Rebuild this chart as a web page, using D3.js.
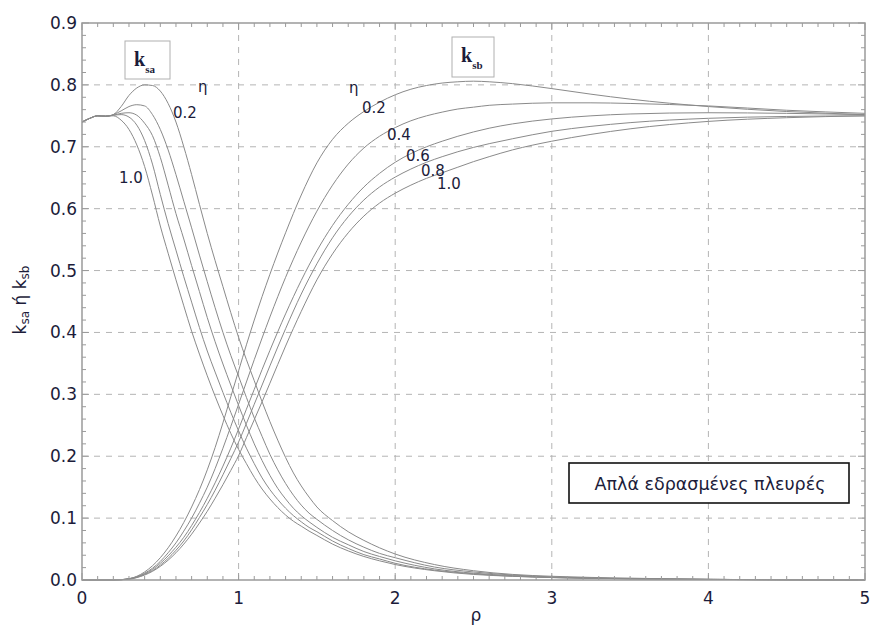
<!DOCTYPE html>
<html><head><meta charset="utf-8">
<script src="https://cdn.jsdelivr.net/npm/d3@7"></script>
<style>body{margin:0;background:#fff}</style>
</head><body>
<svg id="c" width="871" height="626"></svg>
<script>
// ---------- data ----------
const etaValues = ["0.2","0.4","0.6","0.8","1.0"];
const rhoA = [0,0.05,0.1,0.15,0.2,0.25,0.3,0.35,0.4,0.45,0.5,0.55,0.6,0.65,0.7,0.75,0.8,0.85,0.9,0.95,1.0,1.05,1.1,1.15,1.2,1.25,1.3,1.35,1.4,1.45,1.5,1.6,1.7,1.8,1.9,2.0,2.25,2.5,2.75,3,3.5,4,5];
const ksa02 = [0.740,0.746,0.750,0.749,0.752,0.765,0.783,0.795,0.800,0.799,0.790,0.770,0.740,0.700,0.655,0.607,0.560,0.516,0.474,0.432,0.392,0.356,0.322,0.288,0.256,0.226,0.198,0.173,0.152,0.134,0.118,0.096,0.078,0.064,0.052,0.042,0.025,0.015,0.009,0.006,0.003,0.001,0];
const ksa04 = [0.740,0.746,0.750,0.749,0.752,0.758,0.765,0.768,0.766,0.752,0.728,0.695,0.655,0.612,0.569,0.525,0.482,0.440,0.400,0.363,0.329,0.295,0.262,0.232,0.203,0.178,0.156,0.137,0.121,0.108,0.098,0.080,0.065,0.053,0.043,0.036,0.021,0.013,0.008,0.005,0.002,0.001,0];
const ksa06 = [0.740,0.746,0.750,0.749,0.751,0.754,0.755,0.751,0.738,0.718,0.683,0.638,0.592,0.551,0.508,0.466,0.424,0.385,0.349,0.315,0.282,0.250,0.220,0.193,0.169,0.148,0.131,0.116,0.104,0.094,0.085,0.069,0.057,0.046,0.038,0.031,0.018,0.011,0.007,0.004,0.002,0.001,0];
const ksa08 = [0.740,0.746,0.750,0.750,0.751,0.752,0.748,0.735,0.710,0.672,0.623,0.576,0.533,0.490,0.449,0.408,0.370,0.336,0.303,0.271,0.241,0.213,0.188,0.165,0.146,0.130,0.116,0.104,0.094,0.085,0.078,0.063,0.051,0.041,0.034,0.027,0.016,0.010,0.006,0.004,0.002,0.001,0];
const ksa10 = [0.740,0.746,0.750,0.750,0.750,0.743,0.728,0.703,0.668,0.622,0.572,0.528,0.485,0.443,0.402,0.365,0.330,0.297,0.266,0.237,0.211,0.188,0.166,0.147,0.131,0.117,0.105,0.095,0.087,0.079,0.072,0.058,0.047,0.038,0.031,0.025,0.015,0.009,0.006,0.004,0.002,0.001,0];

const rhoB = [0,0.1,0.2,0.25,0.3,0.35,0.4,0.45,0.5,0.55,0.6,0.65,0.7,0.75,0.8,0.85,0.9,0.95,1.0,1.05,1.1,1.15,1.2,1.3,1.4,1.5,1.6,1.7,1.8,1.9,2.0,2.1,2.2,2.3,2.4,2.5,2.6,2.75,3.0,3.25,3.5,4.0,4.5,5.0];
const ksb02 = [0,0,0,0.0005,0.002,0.006,0.013,0.023,0.036,0.052,0.071,0.093,0.118,0.146,0.178,0.214,0.254,0.296,0.338,0.380,0.420,0.458,0.494,0.561,0.622,0.674,0.712,0.738,0.757,0.772,0.784,0.793,0.799,0.803,0.805,0.806,0.805,0.802,0.794,0.785,0.777,0.765,0.757,0.752];
const ksb04 = [0,0,0,0.0005,0.002,0.005,0.011,0.019,0.030,0.044,0.060,0.079,0.100,0.124,0.150,0.180,0.213,0.248,0.284,0.320,0.356,0.391,0.425,0.489,0.546,0.596,0.638,0.672,0.698,0.717,0.731,0.742,0.750,0.756,0.761,0.764,0.767,0.769,0.771,0.771,0.770,0.766,0.759,0.754];
const ksb06 = [0,0,0,0.0005,0.002,0.005,0.010,0.017,0.027,0.039,0.053,0.069,0.088,0.109,0.132,0.157,0.184,0.213,0.244,0.276,0.308,0.340,0.371,0.430,0.484,0.532,0.573,0.607,0.635,0.657,0.675,0.689,0.700,0.709,0.717,0.724,0.730,0.737,0.745,0.750,0.753,0.755,0.754,0.752];
const ksb08 = [0,0,0,0.0005,0.002,0.004,0.009,0.015,0.024,0.035,0.048,0.063,0.081,0.101,0.122,0.145,0.170,0.196,0.223,0.253,0.284,0.315,0.346,0.406,0.462,0.511,0.553,0.587,0.614,0.635,0.651,0.664,0.675,0.684,0.692,0.699,0.705,0.713,0.725,0.733,0.739,0.746,0.749,0.750];
const ksb10 = [0,0,0,0.0005,0.001,0.004,0.008,0.014,0.022,0.032,0.044,0.058,0.074,0.092,0.111,0.132,0.154,0.177,0.201,0.230,0.259,0.288,0.318,0.378,0.434,0.485,0.527,0.561,0.588,0.609,0.625,0.638,0.649,0.658,0.667,0.676,0.684,0.695,0.709,0.720,0.729,0.741,0.747,0.750];

const xTicks = [0,1,2,3,4,5];
const yTicks = [0.0,0.1,0.2,0.3,0.4,0.5,0.6,0.7,0.8,0.9];
const legendText = "Απλά εδρασμένες πλευρές";

// ---------- drawing ----------
const svg = d3.select("#c");
const L = 82, R = 865, T = 23, B = 580;
const x = d3.scaleLinear().domain([0,5]).range([L,R]);
const y = d3.scaleLinear().domain([0,0.9]).range([B,T]);
const tickFont = "'DejaVu Sans', sans-serif";
const textCol = "#1c1c3a";

// grid
const g = svg.append("g");
g.selectAll(".gx").data(xTicks.slice(1,-1)).join("line")
  .attr("x1",d=>x(d)).attr("x2",d=>x(d)).attr("y1",T).attr("y2",B)
  .attr("stroke","#b4b4b4").attr("stroke-width",1).attr("stroke-dasharray","6,6");
g.selectAll(".gy").data(yTicks.slice(1,-1)).join("line")
  .attr("y1",d=>y(d)).attr("y2",d=>y(d)).attr("x1",L).attr("x2",R)
  .attr("stroke","#b4b4b4").attr("stroke-width",1).attr("stroke-dasharray","6,6");

// curves
const line = d3.line().x(d=>x(d[0])).y(d=>y(d[1])).curve(d3.curveMonotoneX);
const seriesA = [ksa02,ksa04,ksa06,ksa08,ksa10];
const seriesB = [ksb02,ksb04,ksb06,ksb08,ksb10];
seriesA.forEach(s=>{
  svg.append("path").attr("d", line(rhoA.map((r,i)=>[r,s[i]])))
    .attr("fill","none").attr("stroke","#8a8a8a").attr("stroke-width",1);
});
seriesB.forEach(s=>{
  svg.append("path").attr("d", line(rhoB.map((r,i)=>[r,s[i]])))
    .attr("fill","none").attr("stroke","#8a8a8a").attr("stroke-width",1);
});

// minor / major ticks (inward)
const ax = svg.append("g").attr("stroke","#9a9a9a").attr("stroke-width",1);
const xMinor = d3.range(0,51).map(i=>i/10);
xMinor.forEach(v=>{
  const major = Math.abs(v-Math.round(v))<1e-9;
  const len = major?7:4;
  ax.append("line").attr("x1",x(v)).attr("x2",x(v)).attr("y1",B).attr("y2",B-len);
  ax.append("line").attr("x1",x(v)).attr("x2",x(v)).attr("y1",T).attr("y2",T+len);
});
const yMinor = d3.range(0,46).map(i=>i/50);
yMinor.forEach(v=>{
  const major = Math.abs(v*10-Math.round(v*10))<1e-9;
  const len = major?7:4;
  ax.append("line").attr("y1",y(v)).attr("y2",y(v)).attr("x1",L).attr("x2",L+len);
  ax.append("line").attr("y1",y(v)).attr("y2",y(v)).attr("x1",R).attr("x2",R-len);
});
// frame
svg.append("rect").attr("x",L).attr("y",T).attr("width",R-L).attr("height",B-T)
  .attr("fill","none").attr("stroke","#9a9a9a").attr("stroke-width",1.5);

// tick labels
svg.selectAll(".xl").data(xTicks).join("text")
  .attr("x",d=>x(d)).attr("y",604).attr("text-anchor","middle")
  .attr("font-family",tickFont).attr("font-size",17).attr("fill",textCol).text(d=>d);
svg.selectAll(".yl").data(yTicks).join("text")
  .attr("x",L-5).attr("y",d=>y(d)+6).attr("text-anchor","end")
  .attr("font-family",tickFont).attr("font-size",17).attr("fill",textCol).text(d=>d.toFixed(1));

// axis titles
svg.append("text").attr("x",476).attr("y",621).attr("text-anchor","middle")
  .attr("font-family",tickFont).attr("font-size",17).attr("fill",textCol).text("ρ");
const yt = svg.append("text").attr("transform","translate(26,300) rotate(-90)")
  .attr("text-anchor","middle").attr("font-family",tickFont).attr("font-size",17).attr("fill",textCol);
yt.append("tspan").text("k");
yt.append("tspan").attr("font-size",12).attr("dy",3).text("sa");
yt.append("tspan").attr("dy",-3).text(" ή k");
yt.append("tspan").attr("font-size",12).attr("dy",3).text("sb");

// boxed series names
function kbox(x0,y0,w,h,sub){
  svg.append("rect").attr("x",x0).attr("y",y0).attr("width",w).attr("height",h)
    .attr("fill","#fff").attr("stroke","#b0b0b0").attr("stroke-width",1);
  const t = svg.append("text").attr("x",x0+9).attr("y",y0+25)
    .attr("font-family","'Liberation Serif', serif").attr("font-weight","bold")
    .attr("font-size",20).attr("fill",textCol);
  t.append("tspan").text("k");
  t.append("tspan").attr("font-size",11).attr("dy",7).text(sub);
}
kbox(125,41,45,38,"sa");
kbox(452,37,42,40,"sb");

// eta labels
const lab = (tx,ty,s)=>svg.append("text").attr("x",tx).attr("y",ty)
  .attr("font-family",tickFont).attr("font-size",15).attr("fill",textCol).text(s);
lab(198,92,"η");
lab(173,118,etaValues[0]);
lab(119,183,etaValues[4]);
lab(349,93,"η");
lab(362,113,etaValues[0]);
lab(387,140,etaValues[1]);
lab(406,161,etaValues[2]);
lab(421,176,etaValues[3]);
lab(437,189,etaValues[4]);

// legend box
svg.append("rect").attr("x",569).attr("y",463).attr("width",280).attr("height",40)
  .attr("fill","#fff").attr("stroke","#111").attr("stroke-width",1.6);
svg.append("text").attr("x",710).attr("y",490).attr("text-anchor","middle")
  .attr("font-family",tickFont).attr("font-size",17.5).attr("fill",textCol).text(legendText);
</script>
</body></html>
